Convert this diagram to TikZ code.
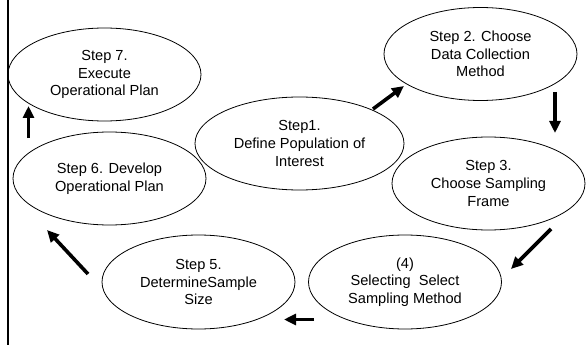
\documentclass[tikz,border=0pt]{standalone}
\usepackage{fontspec}
\setmainfont{Liberation Sans}
\usetikzlibrary{shapes.geometric,arrows.meta}
\begin{document}
\begin{tikzpicture}[x=1pt,y=-1pt,
  stage/.style={draw, ellipse, line width=0.8pt, inner sep=0pt,
    minimum width=193pt, minimum height=93pt, align=center,
    font=\fontsize{14.6}{17.7}\selectfont},
  flow/.style={line width=3.6pt, -{Triangle[length=12pt,width=11pt]}}]
\useasboundingbox (0,0) rectangle (587,345);
% frame edge on the left
\draw[line width=2.6pt] (7.8,0) -- (7.8,345);
% process stages
\node[stage, minimum width=209pt] (s1) at (299.5,143.5) {Step1.\\Define Population of\\Interest};
\node[stage] (s2) at (480.5,54) {Step 2. Choose\\Data Collection\\Method};
\node[stage] (s3) at (488.5,183.5) {Step 3.\\Choose Sampling\\Frame};
\node[stage, minimum height=94pt] (s4) at (405,282) {(4)\\Selecting~ Select\\Sampling Method};
\node[stage, minimum height=94pt] (s5) at (198.5,282) {Step 5.\\DetermineSample\\Size};
\node[stage] (s6) at (109.5,178.5) {Step 6. Develop\\Operational Plan};
\node[stage] (s7) at (104.5,74.5) {Step 7.\\Execute\\Operational Plan};
% arrow end points between stages
\coordinate (a1) at (373,109);
\coordinate (b1) at (404,86);
\coordinate (a2) at (555,92);
\coordinate (b2) at (555,133);
\coordinate (a3) at (551,229);
\coordinate (b3) at (511,269);
\coordinate (a4) at (314,319.5);
\coordinate (b4) at (284,319.5);
\coordinate (a5) at (88,274);
\coordinate (b5) at (47,230);
\coordinate (a6) at (28.5,138);
\coordinate (b6) at (28.5,106);
\draw[flow] (a1) -- (b1);
\draw[flow] (a2) -- (b2);
\draw[flow] (a3) -- (b3);
\draw[flow] (a4) -- (b4);
\draw[flow] (a5) -- (b5);
\draw[flow] (a6) -- (b6);
\end{tikzpicture}
\end{document}
